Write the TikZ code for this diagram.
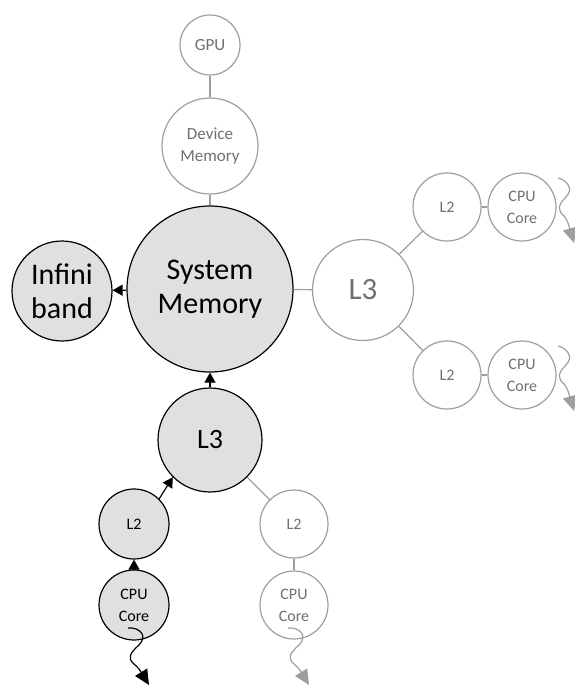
\documentclass[tikz,border=0pt]{standalone}
\usepackage{fontspec}
\setmainfont{Carlito}
\usetikzlibrary{arrows.meta}
\definecolor{memfill}{RGB}{224,224,224}
\definecolor{offline}{RGB}{158,158,158}
\definecolor{offtext}{RGB}{112,112,112}

\tikzset{
  memnode/.style={circle,draw=black,line width=1.2pt,fill=memfill,align=center,inner sep=0pt},
  offnode/.style={circle,draw=offline,line width=1.2pt,fill=white,text=offtext,align=center,inner sep=0pt},
  arr/.style={draw=black,line width=1.2pt,-{Triangle[length=10pt,width=11pt]}},
  offlink/.style={draw=offline,line width=1.2pt},
  wig/.style={line width=1.2pt,-{Triangle[length=15pt,width=14pt]}},
  bigtxt/.style={font=\fontsize{30}{34}\selectfont},
  midtxt/.style={font=\fontsize{28}{30}\selectfont},
  smalltxt/.style={font=\fontsize{16}{22}\selectfont}
}

\begin{document}
\begin{tikzpicture}[x=1pt,y=-1pt]

          \useasboundingbox (0,0) rectangle (574,686);

          \coordinate (c1) at (210,45);
          \coordinate (c2) at (210,146);
          \coordinate (c3) at (210,289);
          \coordinate (c4) at (62,291);
          \coordinate (c5) at (363,290);
          \coordinate (c6) at (447,207);
          \coordinate (c7) at (522,207);
          \coordinate (c8) at (447,375);
          \coordinate (c9) at (522,375);
          \coordinate (c10) at (210,440);
          \coordinate (c11) at (134,524);
          \coordinate (c12) at (134,605);
          \coordinate (c13) at (294,524);
          \coordinate (c14) at (294,605);

          % memory path in use
          \node[memnode,bigtxt,minimum size=166pt] (sysmem) at (c3) {System\\Memory};
          \node[memnode,bigtxt,minimum size=100pt] (infini) at (c4) {Infini\\band};
          \node[memnode,midtxt,minimum size=104pt] (l3a) at (c10) {L3};
          \node[memnode,smalltxt,minimum size=70pt] (l2a) at (c11) {L2};
          \node[memnode,smalltxt,minimum size=70pt] (cpua) at (c12) {CPU\\Core};

          % parts not in use
          \node[offnode,font=\fontsize{17}{22}\selectfont,minimum size=60pt] (gpu) at (c1) {GPU};
          \node[offnode,font=\fontsize{17}{22}\selectfont,minimum size=96pt] (devmem) at (c2) {Device\\Memory};
          \node[offnode,font=\fontsize{31}{33}\selectfont,minimum size=101pt] (l3b) at (c5) {L3};
          \node[offnode,smalltxt,minimum size=68pt] (l2b) at (c6) {L2};
          \node[offnode,smalltxt,minimum size=68pt] (cpub) at (c7) {CPU\\Core};
          \node[offnode,smalltxt,minimum size=68pt] (l2c) at (c8) {L2};
          \node[offnode,smalltxt,minimum size=68pt] (cpuc) at (c9) {CPU\\Core};
          \node[offnode,smalltxt,minimum size=68pt] (l2d) at (c13) {L2};
          \node[offnode,smalltxt,minimum size=68pt] (cpud) at (c14) {CPU\\Core};

          \draw[offlink] (gpu) -- (devmem);
          \draw[offlink] (devmem) -- (sysmem);
          \draw[offlink] (sysmem) -- (l3b);
          \draw[offlink] (l3b) -- (l2b);
          \draw[offlink] (l3b) -- (l2c);
          \draw[offlink] (l2b) -- (cpub);
          \draw[offlink] (l2c) -- (cpuc);
          \draw[offlink] (l3a) -- (l2d);
          \draw[offlink] (l2d) -- (cpud);

          \draw[arr] (sysmem) -- (infini);
          \draw[arr] (l3a) -- (sysmem);
          \draw[arr] (l2a.45) -- (l3a.225);
          \draw[arr] (cpua) -- (l2a);

          % wiggly inputs
          \coordinate (w1s) at (128,628);
          \coordinate (w1e) at (149,685);
          \coordinate (w2s) at (288,628);
          \coordinate (w2e) at (309,685);
          \coordinate (w3s) at (558,178);
          \coordinate (w3e) at (574,243);
          \coordinate (w4s) at (558,346);
          \coordinate (w4e) at (574,411);
          \draw[wig,black] (w1s) .. controls (140,627) and (148,636) .. (139,645)
                           .. controls (130,653) and (127,658) .. (134,664)
                           .. controls (139,668) and (141,672) .. (w1e);
          \draw[wig,offline] (w2s) .. controls (300,627) and (308,636) .. (299,645)
                           .. controls (290,653) and (287,658) .. (294,664)
                           .. controls (299,668) and (301,672) .. (w2e);
          \draw[wig,offline] (w3s) .. controls (567,180) and (574,189) .. (566,197)
                           .. controls (558,205) and (557,210) .. (564,216)
                           .. controls (568,221) and (569,226) .. (w3e);
          \draw[wig,offline] (w4s) .. controls (567,348) and (574,357) .. (566,365)
                           .. controls (558,373) and (557,378) .. (564,384)
                           .. controls (568,389) and (569,394) .. (w4e);
\end{tikzpicture}
\end{document}
